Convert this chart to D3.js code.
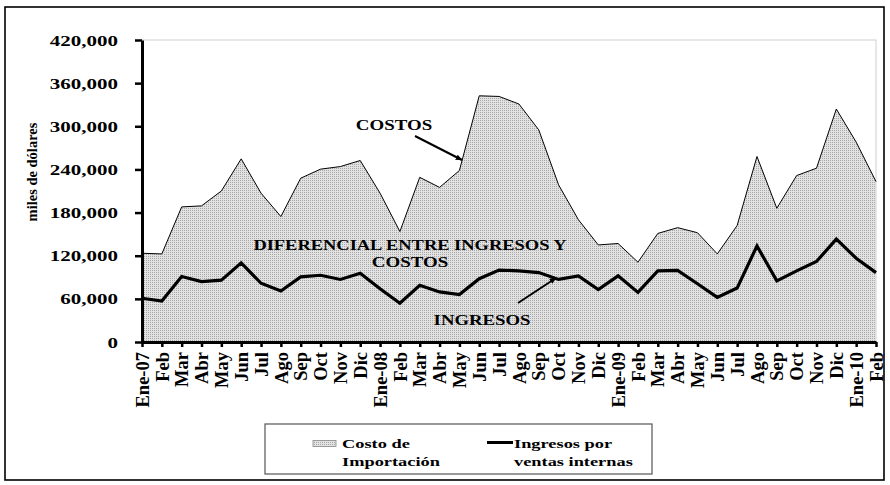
<!DOCTYPE html>
<html>
<head>
<meta charset="utf-8">
<script src="https://cdn.jsdelivr.net/npm/d3@7"></script>
<style>
  body { margin: 0; background: #fff; }
  svg { display: block; }
  text { font-family: "Liberation Serif", "Times New Roman", serif; font-weight: bold; fill: #000; }
</style>
</head>
<body>
<svg id="chart" width="890" height="485"></svg>
<script>
// ---- data ----
const categories = ["Ene-07","Feb","Mar","Abr","May","Jun","Jul","Ago","Sep","Oct","Nov","Dic",
  "Ene-08","Feb","Mar","Abr","May","Jun","Jul","Ago","Sep","Oct","Nov","Dic",
  "Ene-09","Feb","Mar","Abr","May","Jun","Jul","Ago","Sep","Oct","Nov","Dic",
  "Ene-10","Feb"];
const costo = [123400,122500,187900,189300,210000,254700,207000,174500,227800,240400,244000,252400,
  207000,153600,229000,215000,238500,342400,341500,331000,295000,218500,170000,135000,
  137000,111000,151000,159000,152000,122500,162000,258000,186000,231500,241700,324000,
  278000,223000];
const ingresos = [60800,57000,91000,84000,86000,110000,81700,71000,90500,92800,87000,95600,
  74000,54000,79000,69600,66000,88000,100000,99000,96500,87000,92000,73000,
  92000,69000,99000,99500,81000,62000,75000,133600,85000,99000,112000,143000,
  116500,96500];
const yTicks = [0,60000,120000,180000,240000,300000,360000,420000];
const yTitle = "miles de dólares";
const legendLabels = [["Costo de","Importación"],["Ingresos por","ventas internas"]];

// ---- layout ----
const svg = d3.select("#chart");
const L = 142, R = 876, T = 40, B = 342;
const idx = d3.range(categories.length);
const x = d3.scalePoint().domain(idx).range([L, R]);
const y = d3.scaleLinear().domain([0, 420000]).range([B, T]);

// pattern fill
const defs = svg.append("defs");
const pat = defs.append("pattern").attr("id","dots").attr("width",2).attr("height",2)
  .attr("patternUnits","userSpaceOnUse");
pat.append("rect").attr("width",2).attr("height",2).attr("fill","#e2e2e2");
pat.append("rect").attr("width",1).attr("height",1).attr("fill","#a8a8a8");
defs.append("marker").attr("id","arr").attr("viewBox","0 0 10 10").attr("refX",9).attr("refY",5)
  .attr("markerWidth",7).attr("markerHeight",7).attr("orient","auto-start-reverse")
  .attr("markerUnits","userSpaceOnUse")
  .append("path").attr("d","M0,1 L10,5 L0,9 Z").attr("fill","#000");

// outer frame
svg.append("rect").attr("x",5).attr("y",7).attr("width",879).attr("height",473)
  .attr("fill","none").attr("stroke","#000").attr("stroke-width",1.6);

// plot border
svg.append("rect").attr("x",L).attr("y",T).attr("width",R-L).attr("height",B-T)
  .attr("fill","none").attr("stroke","#cfcfcf").attr("stroke-width",1);

// area
svg.append("path").datum(idx)
  .attr("d", d3.area().x(i => x(i)).y0(y(0)).y1(i => y(costo[i])))
  .attr("fill","url(#dots)");
svg.append("path").datum(idx)
  .attr("d", d3.line().x(i => x(i)).y(i => y(costo[i])))
  .attr("fill","none").attr("stroke","#000").attr("stroke-width",1);
svg.append("path").datum(idx)
  .attr("d", d3.line().x(i => x(i)).y(i => y(ingresos[i])))
  .attr("fill","none").attr("stroke","#000").attr("stroke-width",3.2)
  .attr("stroke-linejoin","miter");

// y axis
const ya = svg.append("g").attr("transform",`translate(${L},0)`)
  .call(d3.axisLeft(y).tickValues(yTicks).tickSize(7).tickSizeOuter(0).tickFormat(d3.format(",")));
ya.select(".domain").attr("stroke","#000").attr("stroke-width",3);
ya.selectAll(".tick line").attr("stroke","#000").attr("stroke-width",2.5);
ya.selectAll(".tick text").attr("font-size",15).attr("font-family",null)
  .attr("x", -24/1.4).attr("transform","scale(1.4,1)").attr("dy","0.34em");

// x axis
const xa = svg.append("g").attr("transform",`translate(0,${B})`)
  .call(d3.axisBottom(x).tickSize(5).tickSizeOuter(0).tickFormat(""));
xa.select(".domain").attr("stroke","#000").attr("stroke-width",3);
xa.selectAll(".tick line").attr("stroke","#000").attr("stroke-width",2.5);
svg.append("g").selectAll("text").data(idx).join("text")
  .attr("transform", i => `translate(${x(i)},${B + 10}) rotate(-90)`)
  .attr("text-anchor","end").attr("dy","0.36em").attr("font-size",18.5)
  .text(i => categories[i]);

// y title
svg.append("text").attr("transform","translate(37,172) rotate(-90)")
  .attr("text-anchor","middle").attr("font-size",14.5).text(yTitle);

// annotations (stretched text)
function stext(xp, yp, str, size, sx, anchor) {
  svg.append("text").attr("transform",`translate(${xp},${yp}) scale(${sx},1)`)
    .attr("text-anchor",anchor).attr("font-size",size).text(str);
}
stext(394, 130, "COSTOS", 15, 1.26, "middle");
stext(410, 250, "DIFERENCIAL ENTRE INGRESOS Y", 15, 1.23, "middle");
stext(410, 267, "COSTOS", 15, 1.26, "middle");
stext(482, 325, "INGRESOS", 15, 1.25, "middle");
svg.append("line").attr("x1",415).attr("y1",136).attr("x2",462).attr("y2",160)
  .attr("stroke","#000").attr("stroke-width",2).attr("marker-end","url(#arr)");
svg.append("line").attr("x1",518).attr("y1",303).attr("x2",556).attr("y2",278)
  .attr("stroke","#000").attr("stroke-width",2).attr("marker-end","url(#arr)");

// legend
svg.append("rect").attr("x",265).attr("y",424).attr("width",387).attr("height",50)
  .attr("fill","#fff").attr("stroke","#555").attr("stroke-width",1.2);
svg.append("rect").attr("x",313).attr("y",440.5).attr("width",23).attr("height",6)
  .attr("fill","url(#dots)").attr("stroke","#888").attr("stroke-width",0.8);
svg.append("line").attr("x1",487).attr("x2",513).attr("y1",442.5).attr("y2",442.5)
  .attr("stroke","#000").attr("stroke-width",3);
[[342, legendLabels[0]],[514, legendLabels[1]]].forEach(([lx, lines]) => {
  lines.forEach((s, k) => stext(lx, 448 + k*18, s, 13.5, 1.36, "start"));
});
</script>
</body>
</html>
